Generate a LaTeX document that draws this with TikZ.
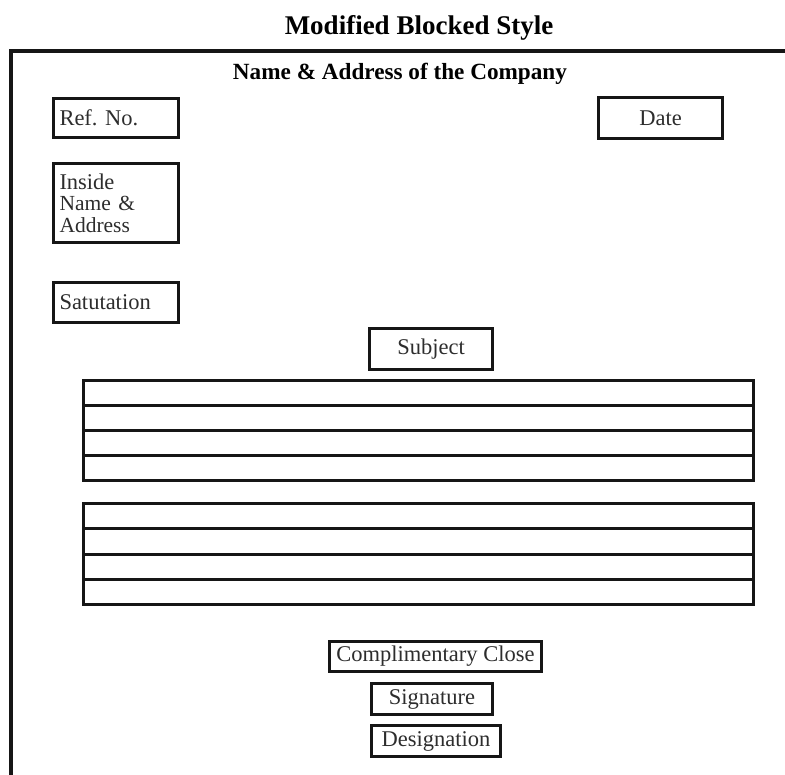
\documentclass[tikz,border=0pt]{standalone}
\usepackage{fontspec}
\setmainfont{Liberation Serif}
\usetikzlibrary{positioning}
\definecolor{lineColor}{RGB}{22,22,22}
\definecolor{textColor}{RGB}{45,45,45}

\begin{document}
\begin{tikzpicture}[x=1pt,y=-1pt,textColor]
    \tikzstyle{box} = [rectangle,draw=lineColor,line width=3pt,inner sep=2pt,font=\fontsize{22.5}{22.5}\selectfont]
    \tikzstyle{leftbox} = [box,minimum height=39pt,text width=113pt,align=left,inner xsep=6pt]
    \tikzstyle{rule} = [draw=lineColor,line width=3pt]
    \tikzstyle{frame} = [draw=lineColor,line width=3.5pt]
    \tikzstyle{heading} = [anchor=base,text=black,font=\bfseries]

    \useasboundingbox (0,0) rectangle (785,775);

    \node [heading, font=\fontsize{27}{30}\selectfont\bfseries] (title) at (419,35) {Modified Blocked Style};
    \draw [frame] (785,51) -- (11,51) -- (11,775);
    \node [heading, font=\fontsize{23.2}{26}\selectfont\bfseries] (company) at (400,80) {Name \& Address of the Company};

    \node [leftbox] (refno) at (116,118) {Ref.\ No.};
    \node [box, minimum width=124pt, minimum height=41pt] (date) at (660.5,118) {Date};
    \node [leftbox, minimum height=79pt, below=23pt of refno] (inside) {Inside\\[-1pt] {\fontsize{21.5}{22.5}\selectfont Name \&}\\[-1pt] {\fontsize{21.5}{22.5}\selectfont Address}};
    \node [leftbox, minimum height=40pt, below=37pt of inside] (salut) {Satutation};
    \node [box, minimum width=123pt, minimum height=41pt] (subject) at (431,349) {Subject};

    % body paragraphs
    \foreach \top in {381,504} {
      \foreach \i in {0,...,3}
        \draw [rule] (83,\top+25*\i) rectangle (753,\top+25*\i+25);
    }

    \node [box, minimum width=212pt, minimum height=30pt] (close) at (435.5,656.5) {Complimentary Close};
    \node [box, minimum width=121pt, minimum height=31pt, below=9pt of close, xshift=-3.5pt] (sign) {Signature};
    \node [box, minimum width=129pt, minimum height=31pt, below=8pt of sign, xshift=4pt] (desig) {Designation};

\end{tikzpicture}
\end{document}
